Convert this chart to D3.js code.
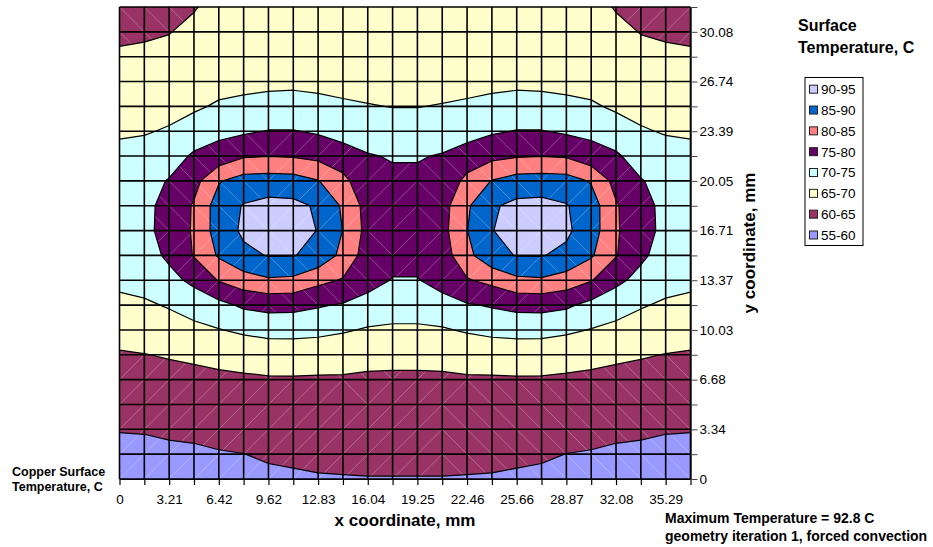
<!DOCTYPE html>
<html>
<head>
<meta charset="utf-8">
<script src="https://cdn.jsdelivr.net/npm/d3@7"></script>
<style>
  body { margin: 0; background: #fff; }
  svg text { font-family: "Liberation Sans", Arial, sans-serif; fill: #000; }
</style>
</head>
<body>
<svg id="chart" width="933" height="547"></svg>
<script>
// Category labels along each axis (mm)
const xCategories = ["0","1.60","3.21","4.81","6.42","8.02","9.62","11.23","12.83","14.44","16.04","17.64",
                     "19.25","20.85","22.46","24.06","25.66","27.27","28.87","30.48","32.08","33.68","35.29","36.89"];
const yCategories = ["0","1.67","3.34","5.01","6.68","8.36","10.03","11.70","13.37","15.04","16.71","18.38",
                     "20.05","21.72","23.39","25.07","26.74","28.41","30.08","31.75"];

// Temperature bands (C)
const bandLabels = ["55-60","60-65","65-70","70-75","75-80","80-85","85-90","90-95"];
const bandColors = ["#9999FF","#993366","#FFFFCC","#CCFFFF","#660066","#FF8080","#0066CC","#CCCCFF"];
const bandEdges = [60, 65, 70, 75, 80, 85, 90];

// Surface temperature, one array per y coordinate (bottom row first), one value per x category
const tRow00 = [57.3,57.4,57.7,58.0,58.3,58.5,59.0,59.3,59.6,59.7,59.8,59.8, 59.8,59.8,59.7,59.6,59.3,59.0,58.5,58.3,58.0,57.7,57.4,57.3];
const tRow01 = [58.7,58.8,59.1,59.3,59.7,59.95,60.6,60.9,61.2,61.4,61.5,61.5, 61.5,61.5,61.4,61.2,60.9,60.6,59.95,59.7,59.3,59.1,58.8,58.7];
const tRow02 = [60.2,60.3,60.7,60.9,61.4,61.9,62.1,62.3,62.5,62.7,62.8,62.8, 62.8,62.8,62.7,62.5,62.3,62.1,61.9,61.4,60.9,60.7,60.3,60.2];
const tRow03 = [61.6,61.7,62.2,62.4,62.7,63.2,63.5,63.6,63.7,63.8,63.8,63.8, 63.8,63.8,63.8,63.7,63.6,63.5,63.2,62.7,62.4,62.2,61.7,61.6];
const tRow04 = [63.0,63.2,63.7,63.9,64.2,64.5,64.8,64.8,64.8,64.8,64.7,64.7, 64.7,64.7,64.8,64.8,64.8,64.8,64.5,64.2,63.9,63.7,63.2,63.0];
const tRow05 = [64.6,64.9,65.3,65.7,66.2,66.4,66.1,66.2,65.9,65.8,65.6,65.5, 65.5,65.6,65.8,65.9,66.2,66.1,66.4,66.2,65.7,65.3,64.9,64.6];
const tRow06 = [66.7,67.1,67.8,68.6,69.8,70.9,72.1,72.1,71.7,70.6,69.5,69.2, 69.2,69.5,70.6,71.7,72.1,72.1,70.9,69.8,68.6,67.8,67.1,66.7];
const tRow07 = [68.9,69.3,70.4,72.4,73.6,75.8,76.3,76.2,75.4,74.6,73.5,72.4, 72.4,73.5,74.6,75.4,76.2,76.3,75.8,73.6,72.4,70.4,69.3,68.9];
const tRow08 = [71.0,71.8,73.7,76.0,80.3,82.8,84.4,84.0,81.3,79.6,76.5,74.8, 74.8,76.5,79.6,81.3,84.0,84.4,82.8,80.3,76.0,73.7,71.8,71.0];
const tRow09 = [72.4,73.2,75.8,80.3,85.6,89.0,90.2,90.2,88.6,83.6,77.6,76.3, 76.3,77.6,83.6,88.6,90.2,90.2,89.0,85.6,80.3,75.8,73.2,72.4];
const tRow10 = [73.2,74.0,76.5,80.6,87.4,90.8,92.8,92.3,89.8,84.9,78.4,76.8, 76.8,78.4,84.9,89.8,92.3,92.8,90.8,87.4,80.6,76.5,74.0,73.2];
const tRow11 = [73.4,74.0,76.3,80.5,87.4,90.3,91.5,91.2,89.4,84.3,78.1,76.7, 76.7,78.1,84.3,89.4,91.2,91.5,90.3,87.4,80.5,76.3,74.0,73.4];
const tRow12 = [72.9,73.3,75.3,78.3,84.6,87.0,87.2,87.0,85.2,81.2,76.8,76.1, 76.1,76.8,81.2,85.2,87.0,87.2,87.0,84.6,78.3,75.3,73.3,72.9];
const tRow13 = [71.5,72.0,72.8,75.7,77.0,79.5,79.9,79.6,78.7,77.5,75.4,74.6, 74.6,75.4,77.5,78.7,79.6,79.9,79.5,77.0,75.7,72.8,72.0,71.5];
const tRow14 = [69.3,69.6,70.5,72.2,73.8,74.3,75.2,75.2,74.4,72.8,72.0,71.9, 71.9,72.0,72.8,74.4,75.2,75.2,74.3,73.8,72.2,70.5,69.6,69.3];
const tRow15 = [67.6,67.8,68.3,69.3,70.6,71.3,71.2,71.3,71.2,70.6,70.2,69.9, 69.9,70.2,70.6,71.2,71.3,71.2,71.3,70.6,69.3,68.3,67.8,67.6];
const tRow16 = [66.3,66.5,66.9,67.6,68.3,68.5,69.2,69.3,68.9,68.7,68.5,68.4, 68.4,68.5,68.7,68.9,69.3,69.2,68.5,68.3,67.6,66.9,66.5,66.3];
const tRow17 = [65.5,65.7,65.8,66.5,67.3,67.6,68.0,68.2,67.9,67.7,67.5,67.4, 67.4,67.5,67.7,67.9,68.2,68.0,67.6,67.3,66.5,65.8,65.7,65.5];
const tRow18 = [64.3,64.5,64.9,65.7,66.6,67.0,67.4,67.6,67.3,67.1,66.9,66.8, 66.8,66.9,67.1,67.3,67.6,67.4,67.0,66.6,65.7,64.9,64.5,64.3];
const tRow19 = [63.0,63.2,63.6,64.8,66.0,66.6,67.0,67.2,66.9,66.7,66.5,66.4, 66.4,66.5,66.7,66.9,67.2,67.0,66.6,66.0,64.8,63.6,63.2,63.0];

const temperatureRows = [tRow00,tRow01,tRow02,tRow03,tRow04,tRow05,tRow06,tRow07,tRow08,tRow09,
                         tRow10,tRow11,tRow12,tRow13,tRow14,tRow15,tRow16,tRow17,tRow18,tRow19];

const nx = xCategories.length;
const ny = yCategories.length;
const plot = { left: 119.5, right: 690.5, top: 7, bottom: 479 };

const svg = d3.select("#chart");
const x = d3.scaleLinear().domain([0, nx - 1]).range([plot.left, plot.right]);
const y = d3.scaleLinear().domain([0, ny - 1]).range([plot.bottom, plot.top]);

const values = temperatureRows.flat();
const value = (i, j) => temperatureRows[j][i];

// Filled bands from the gridded temperatures
const bands = d3.contours().size([nx, ny]).smooth(true).thresholds(bandEdges)(values);
const toPixels = d3.geoTransform({
  point(px, py) { this.stream.point(x(px - 0.5), y(py - 0.5)); }
});
const path = d3.geoPath(toPixels);

svg.append("defs").append("clipPath").attr("id", "plot-clip")
  .append("rect")
  .attr("x", plot.left).attr("y", plot.top)
  .attr("width", plot.right - plot.left).attr("height", plot.bottom - plot.top);

const surface = svg.append("g").attr("clip-path", "url(#plot-clip)");

surface.append("rect")
  .attr("x", plot.left).attr("y", plot.top)
  .attr("width", plot.right - plot.left).attr("height", plot.bottom - plot.top)
  .attr("fill", bandColors[0]);

surface.selectAll("path.band")
  .data(bands)
  .join("path")
  .attr("class", "band")
  .attr("d", path)
  .attr("fill", (d, k) => bandColors[k + 1])
  .attr("stroke", "none");

// Faint triangulation diagonals, one per cell, along the steeper corner pair
const diagonals = [];
for (let j = 0; j < ny - 1; j++) {
  for (let i = 0; i < nx - 1; i++) {
    const a = value(i, j), b = value(i + 1, j), c = value(i, j + 1), d = value(i + 1, j + 1);
    if (Math.abs(a - d) >= Math.abs(b - c)) diagonals.push([i, j, i + 1, j + 1]);
    else diagonals.push([i + 1, j, i, j + 1]);
  }
}
surface.append("g")
  .selectAll("line")
  .data(diagonals)
  .join("line")
  .attr("x1", d => x(d[0])).attr("y1", d => y(d[1]))
  .attr("x2", d => x(d[2])).attr("y2", d => y(d[3]))
  .attr("stroke", "#fff").attr("stroke-opacity", 0.35).attr("stroke-width", 0.8);

// Contour lines
surface.selectAll("path.edge")
  .data(bands)
  .join("path")
  .attr("class", "edge")
  .attr("d", path)
  .attr("fill", "none")
  .attr("stroke", "#000")
  .attr("stroke-width", 1.2)
  .attr("stroke-linejoin", "round");

// Grid at every category
const grid = svg.append("g").attr("stroke", "#000").attr("stroke-width", 1.6);
grid.selectAll("line.v")
  .data(d3.range(nx))
  .join("line").attr("class", "v")
  .attr("x1", d => x(d)).attr("x2", d => x(d))
  .attr("y1", plot.top).attr("y2", plot.bottom);
grid.selectAll("line.h")
  .data(d3.range(ny))
  .join("line").attr("class", "h")
  .attr("y1", d => y(d)).attr("y2", d => y(d))
  .attr("x1", plot.left).attr("x2", plot.right);

// Axes
const xAxis = svg.append("g")
  .attr("transform", `translate(0,${plot.bottom})`)
  .call(d3.axisBottom(x)
    .tickValues(d3.range(nx))
    .tickSize(6).tickSizeOuter(0).tickPadding(9)
    .tickFormat(i => i % 2 === 0 ? xCategories[i] : ""));
xAxis.select(".domain").attr("stroke", "#000").attr("stroke-width", 1.2);
xAxis.selectAll(".tick line").attr("stroke", "#000").attr("stroke-width", 1.2);
xAxis.selectAll("text").style("font-size", "13.5px").attr("fill", "#000");

const yAxis = svg.append("g")
  .attr("transform", `translate(${plot.right},0)`)
  .call(d3.axisRight(y)
    .tickValues(d3.range(ny))
    .tickSize(7).tickSizeOuter(0).tickPadding(2)
    .tickFormat(j => j % 2 === 0 ? yCategories[j] : ""));
yAxis.select(".domain").attr("stroke", "#000").attr("stroke-width", 1.2);
yAxis.selectAll(".tick line").attr("stroke", "#444").attr("stroke-width", 1);
yAxis.selectAll("text").style("font-size", "13.5px").attr("fill", "#000");

// Axis titles
svg.append("text")
  .attr("x", 405).attr("y", 526)
  .attr("text-anchor", "middle")
  .style("font-size", "17px").style("font-weight", "bold")
  .text("x coordinate, mm");

svg.append("text")
  .attr("transform", "translate(755,243) rotate(-90)")
  .attr("text-anchor", "middle")
  .style("font-size", "17px").style("font-weight", "bold")
  .text("y coordinate, mm");

// Legend
const legendTitle = svg.append("g").style("font-size", "16px").style("font-weight", "bold");
legendTitle.append("text").attr("x", 798).attr("y", 31).text("Surface");
legendTitle.append("text").attr("x", 798).attr("y", 53).text("Temperature, C");

svg.append("rect")
  .attr("x", 805).attr("y", 77.5).attr("width", 58).attr("height", 168)
  .attr("fill", "#fff").attr("stroke", "#000").attr("stroke-width", 1);

const legendItems = bandLabels.map((label, k) => ({ label, color: bandColors[k] })).reverse();
const legendRow = d3.scaleLinear().domain([0, legendItems.length - 1]).range([89.2, 235]);
const entries = svg.append("g").selectAll("g")
  .data(legendItems)
  .join("g")
  .attr("transform", (d, k) => `translate(0,${legendRow(k)})`);
entries.append("rect")
  .attr("x", 809.5).attr("y", -4).attr("width", 8).attr("height", 8)
  .attr("fill", d => d.color).attr("stroke", "#222").attr("stroke-width", 1);
entries.append("text")
  .attr("x", 821).attr("dy", "0.36em")
  .style("font-size", "13.5px")
  .text(d => d.label);

// Notes
const noteLeft = svg.append("g").style("font-size", "12.5px").style("font-weight", "bold");
noteLeft.append("text").attr("x", 12).attr("y", 475.5).text("Copper Surface");
noteLeft.append("text").attr("x", 12).attr("y", 491).text("Temperature, C");

const noteRight = svg.append("g").style("font-size", "14px").style("font-weight", "bold");
noteRight.append("text").attr("x", 665).attr("y", 522.5).text("Maximum Temperature = 92.8 C");
noteRight.append("text").attr("x", 665).attr("y", 541).text("geometry iteration 1, forced convection");
</script>
</body>
</html>
